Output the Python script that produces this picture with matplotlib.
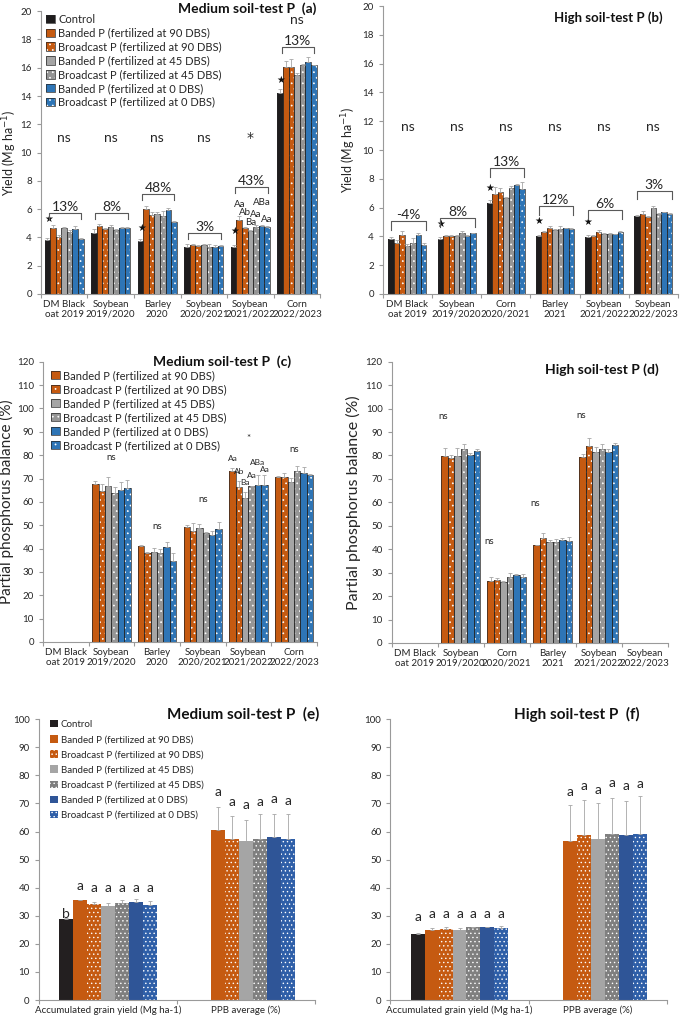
import numpy as np
import matplotlib
matplotlib.use("Agg")
import matplotlib.pyplot as plt
from matplotlib.patches import Patch

plt.rcParams['font.family'] = ['Lato', 'DejaVu Sans']
plt.rcParams['hatch.linewidth'] = 0.5

nan = np.nan

treatments = ["Control",
              "Banded P (fertilized at 90 DBS)",
              "Broadcast P (fertilized at 90 DBS)",
              "Banded P (fertilized at 45 DBS)",
              "Broadcast P (fertilized at 45 DBS)",
              "Banded P (fertilized at 0 DBS)",
              "Broadcast P (fertilized at 0 DBS)"]

crops_medium = ["DM Black\noat 2019", "Soybean\n2019/2020", "Barley\n2020",
                "Soybean\n2020/2021", "Soybean\n2021/2022", "Corn\n2022/2023"]
crops_high = ["DM Black\noat 2019", "Soybean\n2019/2020", "Corn\n2020/2021",
              "Barley\n2021", "Soybean\n2021/2022", "Soybean\n2022/2023"]
summary_groups = ["Accumulated grain yield (Mg ha-1)", "PPB average (%)"]

# (a) yield, medium soil-test P  -- one row per treatment
yield_medium = [[3.85, 4.33, 3.77, 3.32, 3.35, 14.18],
                [4.70, 4.80, 6.00, 3.46, 5.20, 16.07],
                [4.00, 4.60, 5.58, 3.39, 4.69, 16.04],
                [4.65, 4.76, 5.68, 3.46, 4.45, 15.52],
                [4.40, 4.52, 5.54, 3.35, 4.76, 16.20],
                [4.60, 4.64, 5.96, 3.30, 4.78, 16.42],
                [3.90, 4.66, 5.09, 3.39, 4.73, 16.18]]
yield_medium_err = [[0.12, 0.25, 0.15, 0.20, 0.10, 0.30],
                    [0.20, 0.15, 0.25, 0.05, 0.30, 0.40],
                    [0.15, 0.10, 0.20, 0.05, 0.05, 0.55],
                    [0.10, 0.10, 0.15, 0.10, 0.10, 0.10],
                    [0.10, 0.10, 0.30, 0.15, 0.10, 0.10],
                    [0.20, 0.10, 0.10, 0.15, 0.10, 0.35],
                    [0.05, 0.10, 0.05, 0.05, 0.05, 0.05]]
gain_medium = ["13%", "8%", "48%", "3%", "43%", "13%"]
sig_medium = ["ns", "ns", "ns", "ns", "*", "ns"]

# (b) yield, high soil-test P
yield_high = [[3.82, 3.80, 6.30, 4.03, 3.98, 5.42],
              [3.54, 4.05, 6.92, 4.28, 4.03, 5.58],
              [4.10, 4.03, 7.06, 4.60, 4.28, 5.32],
              [3.36, 4.05, 6.67, 4.44, 4.17, 5.97],
              [3.52, 4.21, 7.38, 4.54, 4.17, 5.56],
              [4.07, 4.05, 7.57, 4.56, 4.14, 5.67],
              [3.40, 4.21, 7.30, 4.49, 4.30, 5.58]]
yield_high_err = [[0.15, 0.15, 0.20, 0.05, 0.10, 0.05],
                  [0.20, 0.05, 0.50, 0.10, 0.10, 0.20],
                  [0.30, 0.05, 0.30, 0.10, 0.15, 0.10],
                  [0.10, 0.05, 0.10, 0.10, 0.05, 0.15],
                  [0.40, 0.15, 0.15, 0.15, 0.05, 0.05],
                  [0.20, 0.05, 0.10, 0.05, 0.05, 0.05],
                  [0.15, 0.05, 0.50, 0.10, 0.05, 0.05]]
gain_high = ["-4%", "8%", "13%", "12%", "6%", "3%"]
sig_high = ["ns", "ns", "ns", "ns", "ns", "ns"]

# (c) partial phosphorus balance, medium (no control)
ppb_medium = [[nan, 67.8, 40.9, 49.3, 73.4, 70.8],
              [nan, 64.8, 37.9, 47.6, 66.3, 70.5],
              [nan, 66.8, 38.5, 48.6, 61.6, 68.3],
              [nan, 63.7, 38.0, 46.5, 66.6, 73.0],
              [nan, 65.0, 40.6, 46.0, 67.4, 72.3],
              [nan, 65.8, 34.6, 48.2, 67.4, 71.3]]
ppb_medium_err = [[nan, 1.3, 0.5, 1.0, 1.3, 0.3],
                  [nan, 2.8, 0.5, 3.5, 2.7, 1.7],
                  [nan, 4.0, 1.8, 1.8, 2.7, 2.0],
                  [nan, 2.5, 1.8, 0.5, 0.0, 2.2],
                  [nan, 3.5, 2.0, 1.5, 4.0, 2.5],
                  [nan, 3.5, 3.3, 3.3, 4.0, 0.7]]
ppb_sig_medium = ["", "ns", "ns", "ns", "*", "ns"]
letters_c = ["Aa", "Ab", "Ba", "Aa", "ABa", "Aa"]

# (d) partial phosphorus balance, high
ppb_high = [[nan, 79.7, 26.5, 41.6, 79.3, nan],
            [nan, 79.1, 26.9, 44.8, 84.0, nan],
            [nan, 79.6, 25.9, 43.0, 81.6, nan],
            [nan, 82.6, 28.3, 43.3, 82.7, nan],
            [nan, 80.1, 29.2, 44.1, 81.7, nan],
            [nan, 82.1, 28.2, 43.4, 84.4, nan]]
ppb_high_err = [[nan, 3.7, 1.5, 0.2, 1.5, nan],
                [nan, 1.3, 0.7, 2.2, 3.6, nan],
                [nan, 3.4, 0.7, 1.0, 2.2, nan],
                [nan, 2.3, 1.5, 1.0, 2.2, nan],
                [nan, 1.0, 0.3, 0.7, 1.2, nan],
                [nan, 0.6, 1.2, 1.8, 1.0, nan]]
ppb_sig_high = ["", "ns", "ns", "ns", "ns", ""]

# (e) / (f) accumulated yield and PPB average
summary_medium = [[28.9, nan], [35.6, 60.4], [34.2, 57.4], [33.6, 56.7],
                  [34.6, 57.5], [35.0, 58.1], [34.0, 57.4]]
summary_medium_err = [[0.3, nan], [0.1, 8.5], [0.8, 8.2], [1.0, 7.4],
                      [1.0, 8.6], [1.1, 8.1], [1.2, 8.8]]
letters_e = [["b", ""], ["a", "a"], ["a", "a"], ["a", "a"],
             ["a", "a"], ["a", "a"], ["a", "a"]]
summary_high = [[23.5, nan], [24.8, 56.7], [25.3, 58.6], [25.1, 57.3],
                [25.9, 59.1], [25.9, 58.6], [25.7, 59.3]]
summary_high_err = [[0.2, nan], [0.8, 12.6], [0.7, 12.7], [0.4, 12.8],
                    [0.1, 12.7], [0.2, 12.1], [0.5, 13.3]]
letters_f = [["a", ""], ["a", "a"], ["a", "a"], ["a", "a"],
             ["a", "a"], ["a", "a"], ["a", "a"]]

axis_color = "#9a9a9a"
err_color = "#a6a6a6"
text_color = "#262626"

styles_top = [("#1e1c1d", None), ("#c55a11", None), ("#c55a11", "..."),
              ("#a5a5a5", None), ("#959595", "..."), ("#2e75b6", None), ("#2e75b6", "...")]
styles_bottom = [("#231f20", None), ("#c55a11", None), ("#c55a11", "...."),
                 ("#a5a5a5", None), ("#7f7f7f", "...."), ("#2f5597", None), ("#2f5fa8", "....")]


def style_axis(ax, groups, ymax, ystep, xfs=7, yfs=7):
    n = len(groups)
    ax.set_xlim(-0.5, n - 0.5)
    ax.set_ylim(0, ymax)
    ax.set_yticks(np.arange(0, ymax + ystep / 2, ystep))
    ax.set_xticks(np.arange(n))
    ax.set_xticklabels(groups, fontsize=xfs, color=text_color)
    ax.set_xticks(np.arange(n + 1) - 0.5, minor=True)
    ax.tick_params(axis='x', which='major', length=0, pad=4)
    ax.tick_params(axis='x', which='minor', length=3, color=axis_color, width=0.8)
    ax.tick_params(axis='y', length=3, color=axis_color, width=0.8, labelsize=yfs, labelcolor=text_color)
    for s in ['top', 'right']:
        ax.spines[s].set_visible(False)
    for s in ['left', 'bottom']:
        ax.spines[s].set_color(axis_color)
        ax.spines[s].set_linewidth(0.8)


def draw_bars(ax, series, errs, styles, width, outline=None):
    n_slots = len(series)
    x = np.arange(len(series[0]))
    positions = []
    for k in range(n_slots):
        pos = x + (k - (n_slots - 1) / 2) * width
        positions.append(pos)
        color, hatch = styles[k]
        vals = np.array(series[k], dtype=float)
        ax.bar(pos, vals, width, color=color, edgecolor='white' if hatch else color,
               hatch=hatch, linewidth=0, zorder=2)
        if outline:
            ax.bar(pos, vals, width, fill=False, edgecolor=outline, linewidth=0.5, zorder=3)
        err = np.array(errs[k], dtype=float)
        ax.errorbar(pos, vals, yerr=[np.zeros_like(err), err], fmt='none', ecolor=err_color,
                    elinewidth=0.6, capsize=1.5, capthick=0.6, zorder=4)
    return positions


def bracket(ax, xc, y, drop, label, span=0.35, fs=10):
    x0, x1 = xc - span, xc + span
    ax.plot([x0, x0, x1, x1], [y - drop, y, y, y - drop], color="#595959", lw=0.8, zorder=5)
    ax.text(xc, y, label, ha='center', va='bottom', fontsize=fs, color=text_color)


def legend_handles(styles, outline):
    handles = []
    for color, hatch in styles:
        face = Patch(facecolor=color, edgecolor='white' if hatch else color, hatch=hatch, linewidth=0)
        if outline:
            handles.append((face, Patch(fill=False, edgecolor=outline, linewidth=0.5)))
        else:
            handles.append(face)
    return handles


def add_legend(fig, ax, handles, labels, x, y, fs, spacing):
    ax.legend(handles, labels, loc='upper left', bbox_to_anchor=(x / 680, 1 - y / 1019),
              bbox_transform=fig.transFigure, frameon=False, fontsize=fs, borderpad=0,
              borderaxespad=0, handlelength=0.8, handleheight=0.8, handletextpad=0.3,
              labelspacing=spacing, labelcolor=text_color)


fig = plt.figure(figsize=(6.8, 10.19), dpi=100)

# ---------- (a) ----------
ax_a = fig.add_axes([0.060, 0.7115, 0.411, 0.2775])
style_axis(ax_a, crops_medium, 20, 2)
draw_bars(ax_a, yield_medium, yield_medium_err, styles_top, 0.12, outline="#262626")
ax_a.set_ylabel("Yield (Mg ha$^{-1}$)", fontsize=9, color=text_color, labelpad=1)
bracket_y_a = [5.72, 5.75, 7.05, 4.33, 7.58, 17.48]
for g, (lab, by) in enumerate(zip(gain_medium, bracket_y_a)):
    bracket(ax_a, g + 0.02, by, 0.42, lab)
for g, s in enumerate(sig_medium[:5]):
    if s == "*":
        ax_a.text(g, 11.05, s, ha='center', va='center', fontsize=10, color=text_color,
                  family='DejaVu Sans')
    else:
        ax_a.text(g, 11.05, s, ha='center', va='center', fontsize=10, color=text_color)
ax_a.text(5, 19.35, sig_medium[5], ha='center', va='center', fontsize=10, color=text_color)
ctrl_x = np.arange(6) - 3 * 0.12
for g, sy in zip([0, 2, 4, 5], [5.27, 4.64, 4.45, 15.1]):
    ax_a.text(ctrl_x[g] + 0.02, sy, "★", ha='center', va='center', fontsize=7, color="#111111")
letters_a = ["Aa", "Ab", "Ba", "Aa", "ABa", "Aa"]
letters_a_y = [6.36, 5.75, 5.07, 5.65, 6.45, 5.3]
for k, (lab, ly) in enumerate(zip(letters_a, letters_a_y)):
    ax_a.text(4 + (k - 2) * 0.12, ly, lab, ha='center', va='center', fontsize=7, color=text_color)
add_legend(fig, ax_a, legend_handles(styles_top, "#262626"), treatments, 46, 14, 8, 0.25)
fig.text(247 / 680, 1 - 9 / 1019, "Medium soil-test P  (a)", ha='center', va='center',
         fontsize=10, fontweight='bold', color="#111111")

# ---------- (b) ----------
ax_b = fig.add_axes([0.563, 0.7115, 0.434, 0.2825])
style_axis(ax_b, crops_high, 20, 2)
draw_bars(ax_b, yield_high, yield_high_err, styles_top, 0.11, outline="#262626")
ax_b.set_ylabel("Yield (Mg ha$^{-1}$)", fontsize=9, color=text_color, labelpad=3)
bracket_y_b = [5.07, 5.25, 8.73, 6.11, 5.83, 7.17]
for g, (lab, by) in enumerate(zip(gain_high, bracket_y_b)):
    bracket(ax_b, g + 0.02, by, 0.6, lab)
for g, s in enumerate(sig_high):
    ax_b.text(g, 11.6, s, ha='center', va='center', fontsize=10, color=text_color)
ctrl_x = np.arange(6) - 3 * 0.11
for g, sy in zip([1, 2, 3, 4], [4.8, 7.34, 5.07, 4.95]):
    ax_b.text(ctrl_x[g], sy, "★", ha='center', va='center', fontsize=7, color="#111111")
fig.text(608 / 680, 1 - 18 / 1019, "High soil-test P (b)", ha='center', va='center',
         fontsize=9.5, fontweight='bold', color="#111111")

# ---------- (c) ----------
ax_c = fig.add_axes([0.063, 0.370, 0.403, 0.275])
style_axis(ax_c, crops_medium, 120, 10)
draw_bars(ax_c, ppb_medium, ppb_medium_err, styles_top[1:], 0.14, outline="#262626")
ax_c.set_ylabel("Partial phosphorus balance (%)", fontsize=11, color=text_color, labelpad=2)
sig_y_c = [0, 78.9, 49.4, 60.8, 87.2, 82.6]
for g, (s, sy) in enumerate(zip(ppb_sig_medium, sig_y_c)):
    if s:
        ax_c.text(g, sy, s, ha='center', va='center', fontsize=7, color=text_color)
letters_c_y = [78.7, 73.0, 68.4, 71.5, 76.8, 73.7]
for k, (lab, ly) in enumerate(zip(letters_c, letters_c_y)):
    ax_c.text(4 + (k - 2.5) * 0.14, ly, lab, ha='center', va='center', fontsize=6, color=text_color)
add_legend(fig, ax_c, legend_handles(styles_top[1:], "#262626"), treatments[1:], 51, 370, 8, 0.27)
fig.text(222 / 680, 1 - 362 / 1019, "Medium soil-test P  (c)", ha='center', va='center',
         fontsize=10, fontweight='bold', color="#111111")

# ---------- (d) ----------
ax_d = fig.add_axes([0.576, 0.369, 0.406, 0.276])
style_axis(ax_d, crops_high, 120, 10)
draw_bars(ax_d, ppb_high, ppb_high_err, styles_top[1:], 0.14, outline="#262626")
ax_d.set_ylabel("Partial phosphorus balance (%)", fontsize=11.5, color=text_color, labelpad=3)
sig_y_d = [0, 96.8, 43.1, 59.5, 97.1, 0]
for g, (s, sy) in enumerate(zip(ppb_sig_high, sig_y_d)):
    if s:
        ax_d.text(g - 0.38, sy, s, ha='center', va='center', fontsize=7, color=text_color)
fig.text(602 / 680, 1 - 370 / 1019, "High soil-test P (d)", ha='center', va='center',
         fontsize=10, fontweight='bold', color="#111111")

# ---------- (e) ----------
ax_e = fig.add_axes([0.057, 0.0186, 0.406, 0.2756])
style_axis(ax_e, summary_groups, 100, 10)
pos_e = draw_bars(ax_e, summary_medium, summary_medium_err, styles_bottom, 0.101)
letter_y_e = [[28.6, 0], [38.3, 71.8], [37.6, 68.4], [37.6, 67.3],
              [37.6, 68.4], [37.6, 69.6], [37.6, 68.8]]
for k in range(7):
    for g in range(2):
        if letters_e[k][g]:
            ax_e.text(pos_e[k][g], letter_y_e[k][g], letters_e[k][g], ha='center', va='bottom',
                      fontsize=10, color=text_color)
add_legend(fig, ax_e, legend_handles(styles_bottom, None), treatments, 50, 720, 7, 0.62)
fig.text(243 / 680, 1 - 714 / 1019, "Medium soil-test P  (e)", ha='center', va='center',
         fontsize=11, fontweight='bold', color="#111111")

# ---------- (f) ----------
ax_f = fig.add_axes([0.574, 0.0186, 0.407, 0.2756])
style_axis(ax_f, summary_groups, 100, 10)
pos_f = draw_bars(ax_f, summary_high, summary_high_err, styles_bottom, 0.101)
letter_y_f = [[27.6, 0], [28.6, 72.0], [28.6, 74.2], [28.6, 72.6],
              [28.6, 75.0], [28.6, 74.2], [28.6, 74.7]]
for k in range(7):
    for g in range(2):
        if letters_f[k][g]:
            ax_f.text(pos_f[k][g], letter_y_f[k][g], letters_f[k][g], ha='center', va='bottom',
                      fontsize=10, color=text_color)
fig.text(577 / 680, 1 - 714 / 1019, "High soil-test P  (f)", ha='center', va='center',
         fontsize=11, fontweight='bold', color="#111111")

fig.savefig("out.png", dpi=100)
